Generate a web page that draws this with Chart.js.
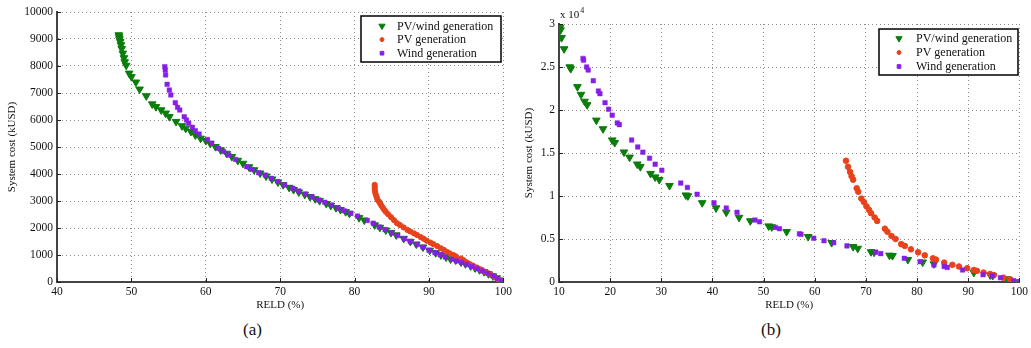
<!DOCTYPE html>
<html lang="en">
<head>
  <meta charset="UTF-8" />
  <title>System cost vs RELD</title>
  <script src="https://cdn.jsdelivr.net/npm/chart.js"></script>
  <style>
    body {
      margin: 0;
      background: #fff;
      width: 1031px;
      height: 348px;
      overflow: hidden;
      font-family: "Liberation Serif", serif;
    }
    .wrap { position: absolute; top: 0; height: 312px; }
    #wa { left: 0; width: 515px; }
    #wb { left: 515px; width: 516px; }
    .cap {
      position: absolute;
      top: 320px;
      font: 17px "Liberation Serif", serif;
      line-height: 20px;
      color: #111;
    }
  </style>
</head>
<body>
  <div class="wrap" id="wa"><canvas id="chartA"></canvas></div>
  <div class="wrap" id="wb"><canvas id="chartB"></canvas></div>
  <div class="cap" style="left:243px">(a)</div>
  <div class="cap" style="left:761px">(b)</div>

  <script>
    const seriesNames = ['PV/wind generation', 'PV generation', 'Wind generation'];
    const xLabel = 'RELD (%)';
    const yLabel = 'System cost (kUSD)';

    // axis ranges / tick steps
    const xTicksA = [40, 100, 10];
    const yTicksA = [0, 10000, 1000];
    const xTicksB = [10, 100, 10];
    const yTicksB = [0, 3, 0.5];   // x 10^4

    // (a) points [RELD %, cost kUSD]
    const hybridA = [
      [48.3,9150],[48.35,9080],[48.4,9000],[48.5,8900],[48.6,8780],[48.7,8640],[48.85,8470],[49.0,8300],[49.1,8150],[49.3,8020],
      [49.7,7730],[50.0,7600],[50.6,7400],[51.1,7140],[52.0,6890],[52.8,6590],[53.3,6490],[54.0,6370],[54.6,6250],[55.1,6120],
      [56.0,5940],[56.8,5780],[57.3,5690],[58.0,5570],[58.6,5440],[59.3,5320],[60.0,5234],[60.6,5130],[61.3,5010],[62.0,4890],
      [62.8,4760],[63.5,4640],[64.3,4500],[65.0,4390],[65.8,4260],[66.5,4150],[67.3,4030],[68.1,3920],[68.9,3810],[69.7,3700],
      [70.4,3600],[71.2,3500],[71.8,3420],[72.5,3330],[73.3,3240],[74.0,3160],[74.7,3080],[75.3,3010],[76.2,2900],[76.8,2830],
      [77.5,2750],[78.1,2680],[78.8,2600],[79.3,2540],[80.6,2380],[81.3,2290],[82.7,2110],[83.4,2020],[84.2,1920],[84.9,1830],
      [85.6,1740],[86.6,1610],[87.5,1500],[88.3,1400],[89.2,1290],[90.1,1170],[90.9,1080],[91.6,1000],[92.3,920],[92.9,850],
      [93.6,810],[94.3,740],[94.9,670],[95.6,590],[96.2,520],[96.8,450],[97.4,380],[98.0,300],[98.6,220],[99.1,150],[99.6,70],[100,10]
    ];
    const pvA = [
      [82.7,3600],[82.7,3520],[82.7,3440],[82.75,3360],[82.8,3280],[82.9,3200],[83.0,3120],[83.1,3040],[83.3,2975],[83.45,2900],
      [83.6,2830],[83.8,2750],[84.0,2670],[84.2,2600],[84.5,2510],[84.9,2400],[85.3,2290],[85.7,2180],[86.1,2110],[86.6,2020],
      [87.1,1930],[87.5,1870],[88.0,1800],[88.4,1740],[88.9,1660],[89.3,1600],[89.7,1530],[90.2,1460],[90.6,1400],[91.1,1330],
      [91.6,1250],[92.0,1190],[92.4,1120],[92.8,1060],[93.3,1000],[93.6,950],
      [94.3,870],[94.7,800],[95.1,720],[95.5,660],[95.9,610],[96.4,540],[96.9,470],[97.5,380],[98.0,320],[98.4,260],
      [98.9,170],[99.3,100],[99.7,40],[100,0]
    ];
    const windA = [
      [54.5,7975],[54.55,7850],[54.6,7670],[54.8,7320],[55.1,7110],[55.3,6930],[55.9,6640],[56.2,6470],[56.5,6370],[57.1,6120],
      [57.4,6000],[57.7,5880],[58.2,5730],[58.6,5600],[59.1,5480],[60.2,5280],[60.8,5140],[61.7,4950],[62.4,4830],[63.1,4700],
      [64.0,4540],[65.5,4270],[66.2,4170],[67.1,4050],[68.0,3960],[68.8,3840],[69.7,3720],[70.6,3590],[71.7,3470],[72.5,3370],
      [73.4,3260],[74.3,3150],[75.2,3040],[76.0,2950],[76.9,2850],[77.8,2740],[78.6,2640],[79.5,2540],[80.4,2440],[81.7,2280],
      [82.5,2180],[83.3,2040],[84.1,1940],[85.0,1820],[85.8,1720],[86.7,1600],[87.5,1500],[88.4,1390],[89.2,1290],[90.0,1180],
      [90.8,1090],[91.5,1010],[92.2,930],[93.0,840],[93.7,780],[94.4,720],[95.1,650],[95.8,570],[96.5,490],[97.2,410],
      [97.9,320],[98.6,230],[99.2,140],[99.8,40]
    ];

    // (b) points [RELD %, cost x10^4 kUSD]
    const hybridB = [
      [10.2,2.96],[10.3,2.93],[10.5,2.84],[11.0,2.71],[12.1,2.50],[12.3,2.48],[13.6,2.27],[14.3,2.18],[15.0,2.10],[15.5,2.06],
      [17.3,1.88],[18.6,1.78],[20.4,1.65],[20.9,1.62],[22.7,1.51],[23.8,1.45],[25.3,1.37],[25.9,1.34],[27.9,1.26],[28.8,1.22],
      [29.6,1.19],[31.6,1.12],[34.8,1.01],[35.2,1.00],[38.0,0.92],[40.7,0.86],[42.7,0.81],[45.2,0.75],[47.4,0.71],[51.0,0.65],
      [51.6,0.64],[54.5,0.585],[58.7,0.527],[63.3,0.457],[67.5,0.41],[68.4,0.39],[71.0,0.35],[71.6,0.345],[74.6,0.31],[75.2,0.305],
      [78.2,0.26],[81.1,0.23],[83.3,0.21],[91.1,0.11],[94.3,0.08],[94.8,0.075],[97.6,0.035],[100,0.0]
    ];
    const pvB = [
      [66.1,1.41],[66.5,1.34],[66.9,1.28],[67.2,1.23],[67.5,1.19],[68.2,1.09],[68.5,1.05],[69.1,0.97],[69.6,0.93],[70.1,0.88],
      [70.6,0.84],[71.0,0.80],[71.7,0.75],[72.2,0.71],[73.7,0.62],[74.2,0.585],[75.0,0.535],[75.8,0.50],[76.9,0.44],[77.6,0.42],
      [78.8,0.38],[80.2,0.345],[81.5,0.31],[83.1,0.275],[83.7,0.26],[85.3,0.225],[86.9,0.20],[88.2,0.18],[89.8,0.16],[91.1,0.14],
      [91.7,0.13],[93.0,0.11],[94.3,0.093],[95.0,0.08],[96.9,0.05],[98.2,0.03],[100,0.0]
    ];
    const windB = [
      [14.7,2.60],[14.8,2.58],[15.4,2.50],[15.7,2.465],[16.7,2.34],[17.7,2.22],[18.0,2.19],[19.0,2.085],[19.7,2.01],[20.4,1.94],
      [21.4,1.85],[21.8,1.83],[24.2,1.65],[25.4,1.57],[26.4,1.51],[27.7,1.44],[28.8,1.37],[30.1,1.30],[33.8,1.15],[35.1,1.10],
      [37.0,1.02],[40.3,0.92],[42.7,0.86],[44.8,0.81],[48.3,0.72],[49.2,0.70],[52.3,0.635],[53.1,0.62],[57.0,0.56],[57.3,0.555],
      [59.8,0.51],[61.8,0.48],[63.7,0.457],[66.3,0.42],[71.9,0.345],[72.9,0.33],[77.5,0.275],[80.6,0.236],[83.3,0.198],[85.3,0.18],
      [85.9,0.17],[88.9,0.14],[92.9,0.085],[94.7,0.073],[96.3,0.05],[98.9,0.015],[100,0.0]
    ];

    const GREEN = '#0b7d0b', RED = '#e8421c', PURPLE = '#861fe6';
    const FONT = '"Liberation Serif", "DejaVu Serif", serif';

    const toXY = arr => arr.map(p => ({ x: p[0], y: p[1] }));

    // small inward tick marks along the left and bottom axes
    const innerTicks = {
      id: 'innerTicks',
      afterDraw(chart) {
        const { ctx, chartArea: a, scales } = chart;
        ctx.save();
        ctx.strokeStyle = '#222';
        ctx.lineWidth = 1;
        ctx.beginPath();
        scales.x.ticks.forEach(t => {
          const px = Math.round(scales.x.getPixelForValue(t.value)) + 0.5;
          ctx.moveTo(px, a.bottom); ctx.lineTo(px, a.bottom - 4);
        });
        scales.y.ticks.forEach(t => {
          const py = Math.round(scales.y.getPixelForValue(t.value)) + 0.5;
          ctx.moveTo(a.left, py); ctx.lineTo(a.left + 4, py);
        });
        ctx.stroke();
        ctx.restore();
      }
    };

    // framed legend inside the plot
    const boxLegend = {
      id: 'boxLegend',
      afterDraw(chart, args, o) {
        const ctx = chart.ctx;
        ctx.save();
        ctx.fillStyle = '#fff';
        ctx.fillRect(o.x, o.y, o.w, o.h);
        ctx.lineWidth = 1.5;
        ctx.strokeStyle = '#000';
        ctx.strokeRect(o.x, o.y, o.w, o.h);
        chart.data.datasets.forEach((ds, i) => {
          const yy = o.y + o.top + i * o.step;
          ctx.fillStyle = ds.backgroundColor;
          ctx.strokeStyle = ds.borderColor;
          ctx.lineWidth = 1;
          Chart.helpers.drawPoint(ctx, {
            pointStyle: ds.pointStyle,
            radius: ds.legendRadius,
            rotation: ds.pointRotation || 0,
            borderWidth: 1
          }, o.mx, yy);
          ctx.fillStyle = '#111';
          ctx.font = '12px ' + FONT;
          ctx.textBaseline = 'middle';
          ctx.textAlign = 'left';
          ctx.fillText(ds.label, o.tx, yy + 0.5);
        });
        ctx.restore();
      }
    };

    // "x 10^4" exponent note above the y axis
    const expNote = {
      id: 'expNote',
      afterDraw(chart, args, o) {
        if (!o.show) return;
        const ctx = chart.ctx;
        const a = chart.chartArea;
        ctx.save();
        ctx.fillStyle = '#111';
        ctx.textBaseline = 'alphabetic';
        ctx.font = '11px ' + FONT;
        ctx.fillText('x 10', a.left + 1, a.top - 6);
        const w = ctx.measureText('x 10').width;
        ctx.font = '8px ' + FONT;
        ctx.fillText('4', a.left + 1 + w + 1, a.top - 11);
        ctx.restore();
      }
    };

    function makeDatasets(h, p, w, pvRadius) {
      return [
        {
          label: seriesNames[0], data: toXY(h), order: 2,
          pointStyle: 'triangle', pointRotation: 180, pointRadius: 4.4, legendRadius: 3.6,
          backgroundColor: GREEN, borderColor: GREEN, borderWidth: 1, showLine: false
        },
        {
          label: seriesNames[1], data: toXY(p), order: 1,
          pointStyle: 'circle', pointRadius: pvRadius, legendRadius: 2,
          backgroundColor: RED, borderColor: RED, borderWidth: 1, showLine: false
        },
        {
          label: seriesNames[2], data: toXY(w), order: 0,
          pointStyle: 'rect', pointRadius: 3.2, legendRadius: 2.6,
          backgroundColor: PURPLE, borderColor: PURPLE, borderWidth: 0.5, showLine: false
        }
      ];
    }

    function makeChart(id, datasets, xT, yT, cfg) {
      const tickFont = { family: FONT, size: 11.5 };
      const titleFont = { family: FONT, size: 11 };
      const plain = v => String(v);
      new Chart(document.getElementById(id), {
        type: 'scatter',
        data: { datasets },
        options: {
          responsive: true,
          maintainAspectRatio: false,
          animation: false,
          events: [],
          layout: { padding: { left: 0, right: 9, top: cfg.top, bottom: 0 } },
          plugins: {
            legend: { display: false },
            tooltip: { enabled: false },
            boxLegend: cfg.legend,
            expNote: { show: cfg.exp }
          },
          scales: {
            x: {
              type: 'linear', min: xT[0], max: xT[1],
              ticks: { stepSize: xT[2], font: tickFont, color: '#111', padding: 3, maxRotation: 0, callback: plain },
              grid: { color: '#8a8a8a', lineWidth: 1, drawTicks: false },
              border: { color: '#444', width: 2, dash: [1, 3] },
              title: { display: true, text: xLabel, font: titleFont, color: '#111', padding: { top: 0, bottom: 0 } },
              afterFit(s) { s.height = 30; }
            },
            y: {
              type: 'linear', min: yT[0], max: yT[1],
              ticks: { stepSize: yT[2], font: tickFont, color: '#111', padding: 4, callback: plain },
              grid: { color: '#8a8a8a', lineWidth: 1, drawTicks: false },
              border: { color: '#444', width: 2, dash: [1, 3] },
              title: { display: true, text: yLabel, font: titleFont, color: '#111', padding: { top: cfg.titlePad, bottom: 0 } },
              afterFit(s) { s.width = cfg.yWidth; }
            }
          }
        },
        plugins: [innerTicks, boxLegend, expNote]
      });
    }

    makeChart('chartA', makeDatasets(hybridA, pvA, windA, 2.6), xTicksA, yTicksA, {
      top: 12, yWidth: 57, titlePad: 6, exp: false,
      legend: { x: 361, y: 16, w: 140, h: 46, mx: 382, tx: 397, top: 10, step: 13.6 }
    });
    makeChart('chartB', makeDatasets(hybridB, pvB, windB, 2.8), xTicksB, yTicksB, {
      top: 24, yWidth: 44, titlePad: 8, exp: true,
      legend: { x: 364, y: 29, w: 139, h: 46, mx: 384, tx: 401, top: 9.5, step: 14 }
    });
  </script>
</body>
</html>
